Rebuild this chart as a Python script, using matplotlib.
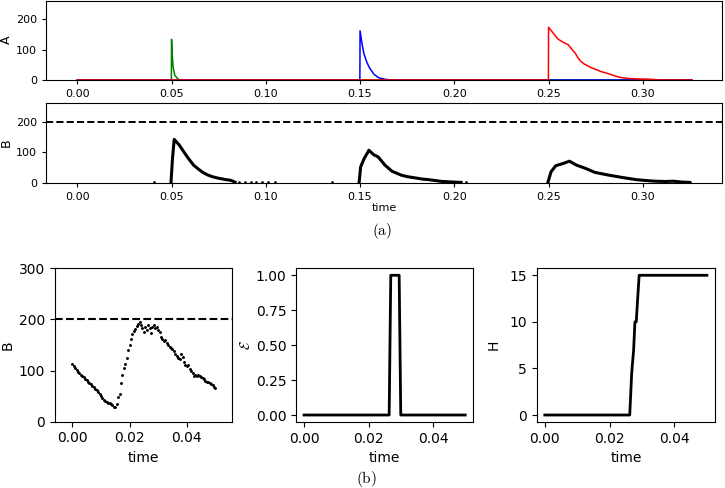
import matplotlib
matplotlib.use('Agg')
import matplotlib.pyplot as plt
import numpy as np

plt.rcParams['mathtext.fontset'] = 'cm'

# ---- top: species A (three pulses) and B over the whole run ----
T_END = 0.326

tA_green = [0.0, 0.0499, 0.05, 0.0504, 0.0508, 0.0517, 0.0534, 0.0547, T_END]
A_green = [0, 0, 134, 80, 44, 16, 3, 0, 0]

tA_blue = [0.0, 0.1499, 0.15, 0.151, 0.152, 0.1535, 0.155, 0.1575, 0.16, 0.1635, 0.167, T_END]
A_blue = [0, 0, 162, 121, 88, 60, 40, 18, 7, 2, 0, 0]

tA_red = [0.0, 0.2499, 0.25, 0.2515, 0.253, 0.255, 0.2575, 0.2605, 0.2625, 0.2642,
          0.2654, 0.267, 0.2691, 0.271, 0.2728, 0.275, 0.2777, 0.28, 0.2826, 0.285,
          0.2875, 0.2924, 0.296, 0.300, 0.3022, 0.3095, T_END]
A_red = [0, 0, 174, 162, 150, 135, 125, 116, 100, 88,
         75, 62, 52, 46, 40, 35, 28, 24, 19, 14,
         9, 5, 4, 3, 3, 0, 0]

tB_1 = [0.0497, 0.0505, 0.0514, 0.0540, 0.0568, 0.0592, 0.0617, 0.0642, 0.0666,
        0.0690, 0.0715, 0.0740, 0.0764, 0.0790, 0.0813, 0.0837]
B_1 = [0, 80, 143, 125, 99, 78, 58, 45, 34, 26, 20, 16, 13, 10, 8, 2]

tB_2 = [0.1495, 0.1503, 0.1522, 0.1547, 0.1571, 0.1596, 0.1632, 0.1669, 0.1718,
        0.1750, 0.1791, 0.1830, 0.1865, 0.1900, 0.1938, 0.2000, 0.2036]
B_2 = [0, 52, 80, 107, 93, 85, 58, 38, 25, 20, 16, 12, 10, 7, 4, 2, 1]

tB_3 = [0.2496, 0.2513, 0.2538, 0.2575, 0.2611, 0.2648, 0.2697, 0.2746, 0.2819,
        0.2893, 0.2966, 0.3020, 0.3064, 0.3120, 0.3162, 0.3210, 0.3248]
B_3 = [0, 36, 56, 63, 71, 58, 47, 34, 25, 17, 10, 7, 5, 4, 5, 2, 1]

tB_tail = [0.0405, 0.086, 0.089, 0.092, 0.095, 0.098, 0.101, 0.105, 0.135,
           0.196, 0.200, 0.206, 0.318, 0.322, 0.325]
B_tail = [1, 1, 2, 1, 1, 2, 1, 1, 1, 1, 2, 1, 1, 1, 1]

B_THRESH = 200

# ---- bottom: zoom on one pulse ----
t_zoom = np.round(np.arange(101) * 0.0005, 4)
B_down = [112, 108, 105, 101, 97, 95, 92, 90, 87, 84, 81, 78, 76, 73, 70, 67,
          64, 62, 58, 54, 50, 46, 43, 41, 39, 37, 36, 34, 32, 29, 28]
B_up = [35, 48, 55, 75, 92, 105, 112, 125, 140, 150, 162, 172, 178, 182, 188,
        192, 195, 190, 183, 176, 186, 180, 190, 183, 174, 185, 189, 183, 186, 180,
        176, 166, 162, 158, 160, 154, 150, 147, 145, 142, 138, 133, 128, 125, 122,
        132, 126, 117, 111, 108, 110, 104, 100, 95, 90, 92, 90, 91, 89, 88,
        85, 83, 80, 78, 77, 76, 73, 72, 68, 66]
B_zoom = B_down + B_up

tE = [0.0, 0.0264, 0.0269, 0.0295, 0.0300, 0.05]
E = [0, 0, 1, 1, 0, 0]

tH = [0.0, 0.0262, 0.0268, 0.0274, 0.0278, 0.0282, 0.0291, 0.05]
H = [0, 0, 4.5, 7, 10, 10, 15, 15]

W, Hpx = 725, 488
fig = plt.figure(figsize=(W / 100, Hpx / 100), dpi=100)

def box(l, r, t, b):
    return [l / W, 1 - b / Hpx, (r - l) / W, (b - t) / Hpx]

small = 8
big = 10

# panel A
axA = fig.add_axes(box(46, 722, 0.5, 80))
axA.plot(tA_green, A_green, color='g', lw=1.1)
axA.plot(tA_blue, A_blue, color='b', lw=1.1)
axA.plot(tA_red, A_red, color='r', lw=1.1)
axA.set_ylim(0, 262)
axA.set_xlim(-0.0166, 0.342)
axA.set_yticks([0, 100, 200])
axA.set_xticks([0, 0.05, 0.1, 0.15, 0.2, 0.25, 0.3])
axA.set_ylabel('A', fontsize=9, labelpad=2)
axA.tick_params(labelsize=small, length=3)

# panel B
axB = fig.add_axes(box(46, 722, 103.3, 182.7))
for tt, bb in [(tB_1, B_1), (tB_2, B_2), (tB_3, B_3)]:
    axB.plot(tt, bb, color='k', lw=2.2)
axB.plot(tB_tail, B_tail, 'k.', ms=1.8)
axB.axhline(B_THRESH, color='k', ls='--', lw=1.4)
axB.set_ylim(0, 262)
axB.set_xlim(-0.0166, 0.342)
axB.set_yticks([0, 100, 200])
axB.set_xticks([0, 0.05, 0.1, 0.15, 0.2, 0.25, 0.3])
axB.set_ylabel('B', fontsize=9, labelpad=2)
axB.set_xlabel('time', fontsize=small, labelpad=1)
axB.tick_params(labelsize=small, length=3)

fig.text(382 / W, 1 - 231 / Hpx, r'$\mathrm{(a)}$', ha='center', va='center', fontsize=11)

# bottom left: B
ax1 = fig.add_axes(box(55, 232.3, 268.3, 421.7))
ax1.plot(t_zoom, B_zoom, 'k.', ms=2.2)
ax1.axhline(B_THRESH, color='k', ls='--', lw=1.5)
ax1.set_ylim(0, 300)
ax1.set_xlim(-0.00605, 0.0559)
ax1.set_yticks([0, 100, 200, 300])
ax1.set_xticks([0, 0.02, 0.04])
ax1.set_ylabel('B', fontsize=big)
ax1.yaxis.set_label_coords(-0.228, 0.5)
ax1.set_xlabel('time', fontsize=big)
ax1.tick_params(labelsize=big)

# bottom middle: E
ax2 = fig.add_axes(box(296, 473.3, 268.3, 422))
ax2.plot(tE, E, color='k', lw=2)
ax2.set_xticks([0, 0.02, 0.04])
ax2.set_yticks([0, 0.25, 0.5, 0.75, 1.0])
ax2.set_ylabel(r'$\mathcal{E}$', fontsize=big, labelpad=2)
ax2.set_xlabel('time', fontsize=big)
ax2.tick_params(labelsize=big)

# bottom right: H
ax3 = fig.add_axes(box(536.7, 715, 268.3, 422))
ax3.plot(tH, H, color='k', lw=2)
ax3.set_xticks([0, 0.02, 0.04])
ax3.set_yticks([0, 5, 10, 15])
ax3.set_ylabel('H', fontsize=big, labelpad=6)
ax3.set_xlabel('time', fontsize=big)
ax3.tick_params(labelsize=big)

fig.text(366.7 / W, 1 - 479.3 / Hpx, r'$\mathrm{(b)}$', ha='center', va='center', fontsize=11)

fig.savefig('out.png', dpi=100)
